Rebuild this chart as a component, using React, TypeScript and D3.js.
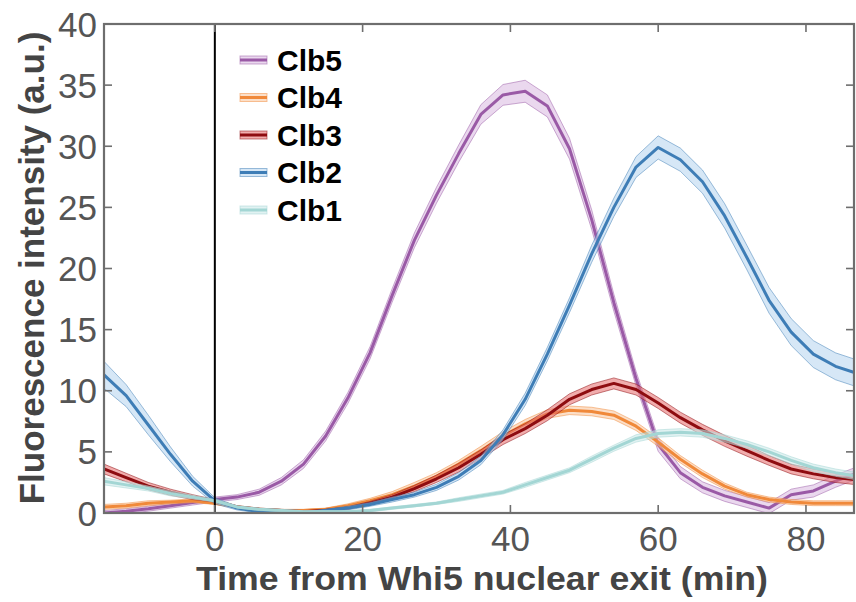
import React from "react";
import * as d3 from "d3";

const times = [-15, -12, -9, -6, -3, 0, 3, 6, 9, 12, 15, 18, 21, 24, 27, 30, 33, 36, 39, 42, 45, 48, 51, 54, 57, 60, 63, 66, 69, 72, 75, 78, 81, 84, 87];

const clb5 = [0.0, 0.15, 0.35, 0.6, 0.85, 1.1, 1.3, 1.7, 2.6, 4.0, 6.3, 9.4, 13.1, 17.8, 22.3, 26.0, 29.4, 32.6, 34.2, 34.5, 33.3, 29.8, 24.0, 17.2, 11.0, 5.6, 3.3, 2.1, 1.4, 0.9, 0.4, 1.5, 1.8, 2.6, 3.3];
const clb5Sem = [0.2, 0.2, 0.2, 0.2, 0.2, 0.2, 0.2, 0.25, 0.3, 0.35, 0.4, 0.45, 0.5, 0.55, 0.6, 0.65, 0.7, 0.8, 0.85, 0.9, 0.9, 0.85, 0.8, 0.7, 0.6, 0.55, 0.5, 0.45, 0.45, 0.45, 0.45, 0.45, 0.5, 0.5, 0.5];

const clb4 = [0.5, 0.6, 0.8, 0.9, 1.0, 0.8, 0.5, 0.3, 0.2, 0.2, 0.3, 0.6, 1.0, 1.5, 2.2, 3.0, 4.0, 5.1, 6.3, 7.3, 8.1, 8.4, 8.3, 8.0, 7.1, 5.8, 4.4, 3.2, 2.2, 1.5, 1.1, 0.9, 0.8, 0.8, 0.8];
const clb4Sem = [0.2, 0.2, 0.2, 0.15, 0.15, 0.1, 0.1, 0.1, 0.1, 0.1, 0.1, 0.15, 0.2, 0.25, 0.3, 0.3, 0.3, 0.35, 0.35, 0.35, 0.35, 0.35, 0.35, 0.35, 0.35, 0.35, 0.3, 0.3, 0.25, 0.2, 0.2, 0.2, 0.2, 0.2, 0.2];

const clb3 = [3.6, 2.9, 2.2, 1.7, 1.3, 1.0, 0.5, 0.3, 0.2, 0.1, 0.2, 0.4, 0.8, 1.3, 2.0, 2.8, 3.7, 4.8, 6.0, 6.9, 8.0, 9.3, 10.1, 10.6, 10.1, 9.0, 7.8, 6.8, 5.9, 5.1, 4.3, 3.6, 3.2, 2.9, 2.7];
const clb3Sem = [0.4, 0.35, 0.3, 0.25, 0.2, 0.1, 0.1, 0.1, 0.1, 0.1, 0.1, 0.1, 0.15, 0.2, 0.25, 0.3, 0.35, 0.35, 0.4, 0.4, 0.45, 0.45, 0.45, 0.45, 0.45, 0.45, 0.45, 0.45, 0.45, 0.45, 0.4, 0.4, 0.4, 0.4, 0.4];

const clb2 = [11.3, 9.6, 7.2, 4.8, 2.6, 1.0, 0.4, 0.1, 0.0, 0.0, 0.2, 0.4, 0.7, 1.1, 1.5, 2.1, 3.0, 4.3, 6.4, 9.3, 13.0, 17.0, 21.2, 25.0, 28.3, 29.9, 28.9, 27.1, 24.3, 20.9, 17.4, 14.8, 13.0, 12.0, 11.4];
const clb2Sem = [1.1, 0.9, 0.8, 0.6, 0.4, 0.25, 0.15, 0.1, 0.1, 0.1, 0.1, 0.15, 0.15, 0.2, 0.2, 0.25, 0.3, 0.35, 0.4, 0.5, 0.55, 0.6, 0.7, 0.75, 0.85, 0.95, 0.95, 0.95, 1.0, 1.0, 1.05, 1.1, 1.1, 1.1, 1.1];

const clb1 = [2.6, 2.3, 2.0, 1.6, 1.3, 1.0, 0.5, 0.3, 0.2, 0.1, 0.1, 0.1, 0.2, 0.4, 0.6, 0.8, 1.1, 1.4, 1.7, 2.3, 2.9, 3.5, 4.4, 5.3, 6.1, 6.5, 6.6, 6.5, 6.1, 5.6, 5.0, 4.3, 3.7, 3.3, 3.0];
const clb1Sem = [0.3, 0.25, 0.2, 0.2, 0.15, 0.1, 0.1, 0.1, 0.1, 0.1, 0.1, 0.1, 0.1, 0.1, 0.1, 0.1, 0.15, 0.15, 0.15, 0.2, 0.2, 0.2, 0.25, 0.25, 0.3, 0.3, 0.3, 0.3, 0.3, 0.3, 0.3, 0.3, 0.3, 0.3, 0.3];

const seriesNames = ["Clb5", "Clb4", "Clb3", "Clb2", "Clb1"];
const seriesMeans = [clb5, clb4, clb3, clb2, clb1];
const seriesSems = [clb5Sem, clb4Sem, clb3Sem, clb2Sem, clb1Sem];
const lineColors = ["#9a5aa6", "#f0893a", "#8e0c10", "#3e7db6", "#a3d6d4"];
const bandColors = ["#d9b8e0", "#f9c49a", "#e56a6a", "#b5d3ee", "#c9e8e8"];

const xTicks = [0, 20, 40, 60, 80];
const yTicks = [0, 5, 10, 15, 20, 25, 30, 35, 40];

const W = 856;
const H = 602;
const L = 104, R = 854, T = 24, B = 513;

export default function App() {
  const x = d3.scaleLinear().domain([-15, 86.5]).range([L, R]);
  const y = d3.scaleLinear().domain([0, 40]).range([B, T]);

  const axisColor = "#6e6e6e";
  const tickColor = "#555";

  return (
    <svg width={W} height={H} style={{ position: "absolute", left: 0, top: 0, background: "#fff" }}
      fontFamily="'Liberation Sans', Arial, Helvetica, sans-serif">
      <defs>
        <clipPath id="plotclip">
          <rect x={L} y={T} width={R - L} height={B - T} />
        </clipPath>
      </defs>
      <rect x={0} y={0} width={W} height={H} fill="#fff" />
      <g clipPath="url(#plotclip)">
        {seriesMeans.map((m, si) => {
          const sem = seriesSems[si];
          const band = d3
            .area<number>()
            .x((_, i) => x(times[i]))
            .y0((d, i) => y(d - sem[i]))
            .y1((d, i) => y(d + sem[i]))(m) as string;
          const line = d3
            .line<number>()
            .x((_, i) => x(times[i]))
            .y((d) => y(d))(m) as string;
          return (
            <g key={seriesNames[si]}>
              <path d={band} fill={bandColors[si]} fillOpacity={0.55} stroke={lineColors[si]} strokeOpacity={0.5} strokeWidth={1} />
              <path d={line} fill="none" stroke={lineColors[si]} strokeWidth={3} strokeLinejoin="round" />
            </g>
          );
        })}
      </g>
      {/* zero line */}
      <line x1={x(0)} x2={x(0)} y1={T} y2={B} stroke="#000" strokeWidth={2} />
      {/* box */}
      <rect x={L} y={T} width={R - L} height={B - T} fill="none" stroke={axisColor} strokeWidth={2.2} />
      {/* ticks */}
      {xTicks.map((t) => (
        <g key={"xt" + t}>
          <line x1={x(t)} x2={x(t)} y1={B} y2={B - 8} stroke={axisColor} strokeWidth={1.6} />
          <line x1={x(t)} x2={x(t)} y1={T} y2={T + 8} stroke={axisColor} strokeWidth={1.6} />
          <text x={x(t)} y={551} textAnchor="middle" fontSize={35} fill={tickColor}>{t}</text>
        </g>
      ))}
      {yTicks.map((t) => (
        <g key={"yt" + t}>
          <line x1={L} x2={L + 8} y1={y(t)} y2={y(t)} stroke={axisColor} strokeWidth={1.6} />
          <line x1={R} x2={R - 8} y1={y(t)} y2={y(t)} stroke={axisColor} strokeWidth={1.6} />
          <text x={97} y={y(t)} dy="0.36em" textAnchor="end" fontSize={35} fill={tickColor}>{t}</text>
        </g>
      ))}
      {/* axis labels */}
      <text x={482} y={590} textAnchor="middle" fontSize={34} fontWeight="bold" fill="#444"
        textLength={572} lengthAdjust="spacingAndGlyphs">
        Time from Whi5 nuclear exit (min)
      </text>
      <text transform={`translate(44,268) rotate(-90)`} textAnchor="middle" fontSize={35} fontWeight="bold" fill="#444">
        Fluorescence intensity (a.u.)
      </text>
      {/* legend */}
      {seriesNames.map((n, i) => {
        const cy = 60 + i * 37.5;
        return (
          <g key={"lg" + n}>
            <rect x={240} y={cy - 4} width={27} height={8} fill={bandColors[i]} fillOpacity={0.55} stroke={lineColors[i]} strokeOpacity={0.5} strokeWidth={1} />
            <line x1={240} x2={267} y1={cy} y2={cy} stroke={lineColors[i]} strokeWidth={3} />
            <text x={277} y={cy} dy="0.36em" fontSize={30} fontWeight="bold" fill="#000">{n}</text>
          </g>
        );
      })}
    </svg>
  );
}
